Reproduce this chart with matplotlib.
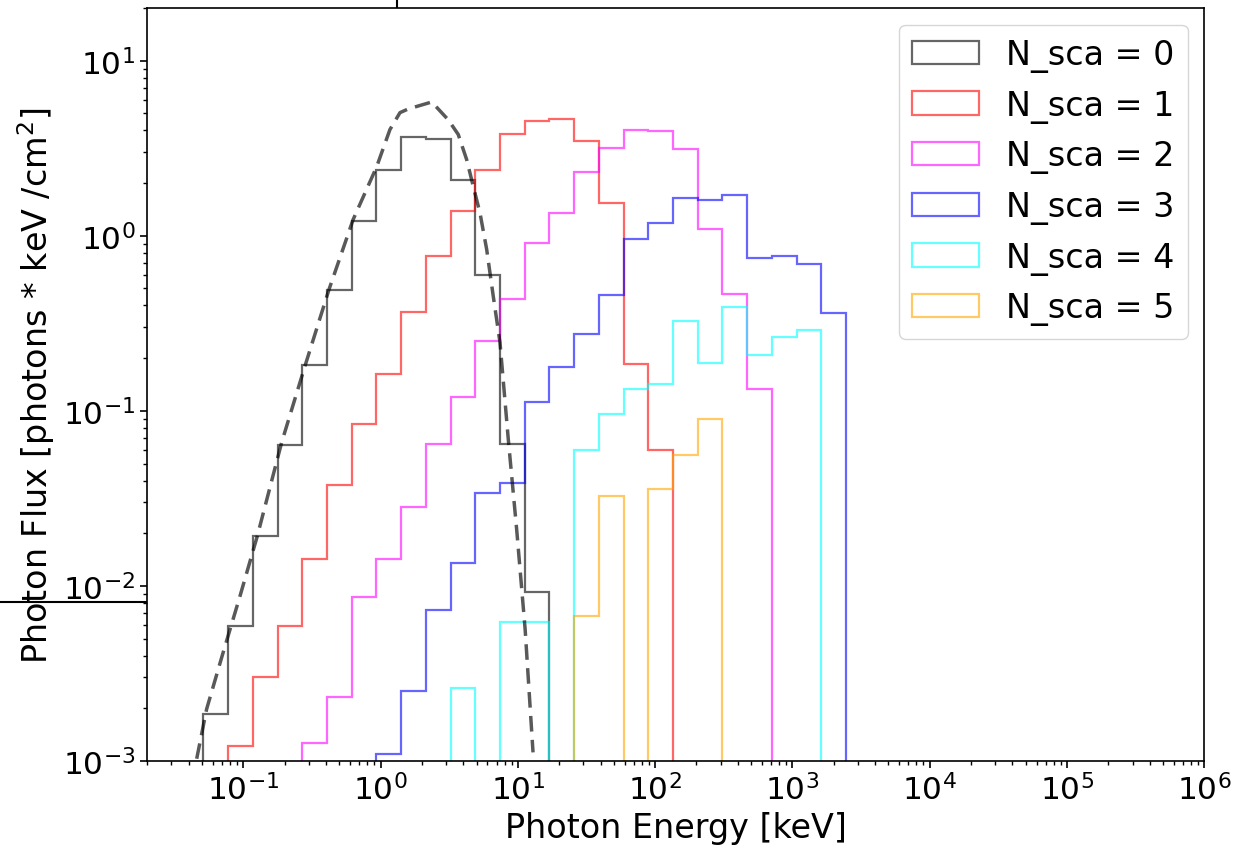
import numpy as np
import matplotlib
matplotlib.use("Agg")
import matplotlib.pyplot as plt
from matplotlib.lines import Line2D

# Logarithmic energy bins (keV) shared by all scattering orders
bin_edges = np.logspace(-1.29, 3.39, 27)

# Photon flux per bin for each number of scatterings
flux_n0 = [1.86e-3, 5.91e-3, 0.0193, 0.0635, 0.182, 0.489, 1.21, 2.37, 3.67,
           3.59, 2.09, 0.596, 0.0650, 0.00925, 0, 0, 0, 0, 0, 0, 0, 0, 0, 0, 0, 0]
flux_n1 = [0, 1.22e-3, 3.01e-3, 5.87e-3, 0.0142, 0.0377, 0.0837, 0.163, 0.366,
           0.764, 1.38, 2.39, 3.82, 4.53, 4.67, 3.50, 1.54, 0.184, 0.0595,
           0, 0, 0, 0, 0, 0, 0]
flux_n2 = [0, 0, 0, 0, 1.26e-3, 2.33e-3, 8.66e-3, 0.0142, 0.0283, 0.0644, 0.120,
           0.252, 0.434, 0.912, 1.35, 2.32, 3.18, 4.00, 3.95, 3.13, 1.10, 0.462,
           0.134, 0, 0, 0]
flux_n3 = [0, 0, 0, 0, 0, 0, 0, 1.09e-3, 2.50e-3, 7.24e-3, 0.0136, 0.0338,
           0.0386, 0.112, 0.178, 0.273, 0.456, 0.961, 1.18, 1.65, 1.60, 1.72,
           0.748, 0.762, 0.686, 0.363]
flux_n4 = [0, 0, 0, 0, 0, 0, 0, 0, 0, 0, 2.61e-3, 0, 6.21e-3, 6.21e-3, 0,
           0.0595, 0.0955, 0.134, 0.142, 0.324, 0.187, 0.390, 0.208, 0.264,
           0.288, 0]
flux_n5 = [0, 0, 0, 0, 0, 0, 0, 0, 0, 0, 0, 0, 0, 0, 0, 6.70e-3, 0.0328, 0,
           0.0356, 0.0562, 0.0902, 0, 0, 0, 0, 0]

series = [flux_n0, flux_n1, flux_n2, flux_n3, flux_n4, flux_n5]
labels = ["N_sca = 0", "N_sca = 1", "N_sca = 2", "N_sca = 3", "N_sca = 4", "N_sca = 5"]
colors = ["black", "red", "magenta", "blue", "cyan", "orange"]

# Seed (unscattered) spectrum, sampled along the curve
seed_energy = [0.0458, 0.0541, 0.0715, 0.0946, 0.1264, 0.1905, 0.281, 0.421,
               0.632, 0.937, 1.17, 1.385, 1.59, 2.36, 3.11, 3.68, 4.24, 4.73,
               5.30, 5.93, 6.62, 7.41, 8.52, 9.80, 11.3, 12.9]
seed_flux = [1.03e-3, 1.98e-3, 4.19e-3, 8.73e-3, 0.0192, 0.0661, 0.1795, 0.493,
             1.24, 2.48, 4.04, 5.05, 5.30, 5.81, 4.60, 3.79, 2.72, 1.92, 1.35,
             0.835, 0.452, 0.246, 0.0687, 0.0211, 5.66e-3, 1.12e-3]

W, H = 1248, 854
fig = plt.figure(figsize=(W / 100, H / 100), dpi=100)

# lines of the neighbouring panel peeking out behind the axes
fig.add_artist(Line2D([0, 147 / W], [1 - 602.5 / H] * 2, color="black", lw=1.5, zorder=0))
fig.add_artist(Line2D([397 / W] * 2, [1, 1 - 9 / H], color="black", lw=1.5, zorder=0))

ax = fig.add_axes([147.3 / W, 1 - 762 / H, (1204.3 - 147.3) / W, (762 - 9) / H])
ax.set_xscale("log")
ax.set_yscale("log")

centers = np.sqrt(bin_edges[:-1] * bin_edges[1:])
for vals, lab, col in zip(series, labels, colors):
    ax.hist(centers, bins=bin_edges, weights=vals, histtype="step",
            color=col, alpha=0.6, lw=1.6, label=lab)

ax.plot(seed_energy, seed_flux, color="black", alpha=0.65, lw=2.5,
        linestyle=(0, (4.5, 2.4)))

ax.set_xlim(0.02, 1e6)
ax.set_ylim(1e-3, 20)

ax.set_xlabel("Photon Energy [keV]", fontsize=24)
ax.set_ylabel("Photon Flux [photons * keV /cm$^2$]", fontsize=24)
ax.tick_params(which="major", labelsize=22.5, length=5.3, width=1.2)
ax.tick_params(which="minor", length=3, width=1.0)
for s in ax.spines.values():
    s.set_linewidth(1.2)

ax.legend(loc="upper right", fontsize=24)

fig.savefig("out.png", dpi=100)
